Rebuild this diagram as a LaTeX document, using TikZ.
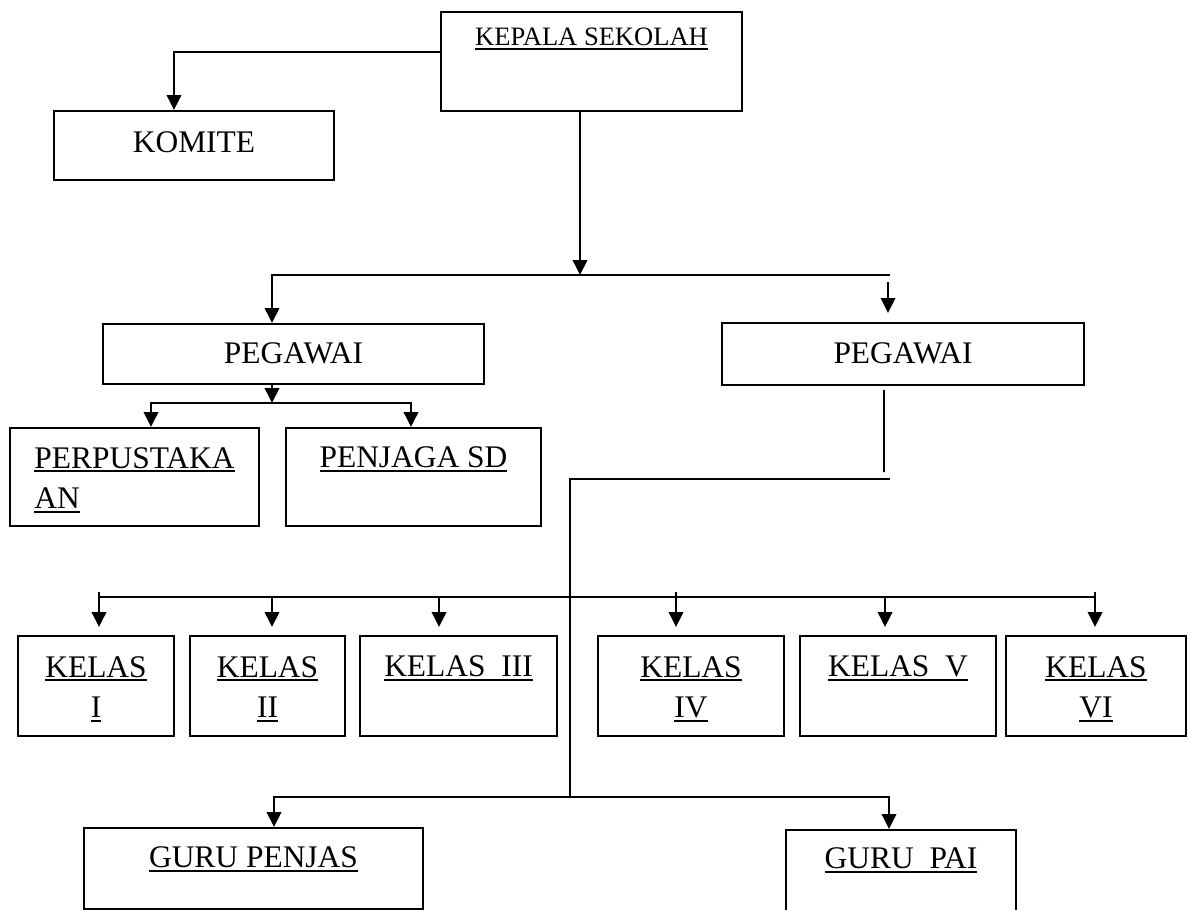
\documentclass[tikz,border=0pt]{standalone}
\usepackage{fontspec}
\setmainfont{Liberation Serif}
\usetikzlibrary{arrows.meta,positioning}
\newsavebox{\ulinebox}
\newcommand{\ulined}[1]{\sbox{\ulinebox}{#1}%
	\rlap{\rule[-0.08cm]{\wd\ulinebox}{1.1pt}}\usebox{\ulinebox}}

\begin{document}
\begin{tikzpicture}[
		>={Triangle[length=0.3cm, width=0.29cm]},
		line width=1.1pt,
		orgbox/.style={draw, anchor=north, inner sep=0pt, align=center,
				font=\fontsize{17.9}{23.3}\selectfont,
				text height=0.8cm, minimum width=#1},
		kelasbox/.style={orgbox=#1, text height=0.82cm, text depth=1.18cm},
		kelastwo/.style={orgbox=#1, text height=1.64cm, text depth=0.36cm},
	]

	\useasboundingbox (0,0) rectangle (23.76,-18.18);

	\node[orgbox=6.02cm, font=\fontsize{15.1}{18}\selectfont,
		text height=0.68cm, text depth=1.30cm] (kepala) at (11.83,-0.22)
	{\ulined{KEPALA SEKOLAH}};

	\node[orgbox=5.6cm, text height=0.84cm, text depth=0.54cm] (komite) at (3.88,-2.20)
	{KOMITE};

	\node[orgbox=7.62cm, text depth=0.4cm] (pegL) at (5.87,-6.46)
	{PEGAWAI};

	\node[orgbox=7.24cm, text height=0.82cm, text depth=0.42cm] (pegR) at (18.06,-6.44)
	{PEGAWAI};

	\node[orgbox=4.98cm, align=left, text height=1.62cm, text depth=0.34cm] (perpus) at (2.69,-8.54)
	{\ulined{PERPUSTAKA}\\\ulined{AN}};

	\node[orgbox=5.1cm, text depth=1.16cm] (penjaga) at (8.27,-8.54)
	{\ulined{PENJAGA SD}};

	\node[kelastwo=3.12cm] (kelas1) at (1.92,-12.7) {\ulined{KELAS}\\\ulined{I}};
	\node[kelastwo=3.10cm] (kelas2) at (5.35,-12.7) {\ulined{KELAS}\\\ulined{II}};
	\node[kelasbox=3.94cm] (kelas3) at (9.17,-12.7) {\ulined{KELAS\ \ III}};
	\node[kelastwo=3.72cm] (kelas4) at (13.82,-12.7) {\ulined{KELAS}\\\ulined{IV}};
	\node[kelasbox=3.92cm] (kelas5) at (17.96,-12.7) {\ulined{KELAS\ \ V}};
	\node[kelastwo=3.60cm] (kelas6) at (21.92,-12.7) {\ulined{KELAS}\\\ulined{VI}};

	\node[orgbox=6.78cm, text depth=0.82cm] (penjas) at (5.07,-16.54)
	{\ulined{GURU PENJAS}};

	\node[orgbox=4.6cm, text height=0.78cm, text depth=1.2cm] (pai) at (18.02,-16.58)
	{\ulined{GURU\ \ PAI}};

	% junctions
	\coordinate (topbusL) at (5.44,-5.5);
	\coordinate (topbusR) at (17.8,-5.5);
	\coordinate (midbus) at (5.44,-8.06);
	\coordinate (lowbusL) at (11.4,-9.58);
	\coordinate (lowbusR) at (17.8,-9.58);
	\coordinate (gurubus) at (11.4,-15.94);
	\coordinate (kelasbusL) at (1.98,-11.94);
	\coordinate (kelasbusR) at (21.9,-11.94);
	\coordinate (kelastick) at (0,-11.84);

	\draw[->] ([yshift=0.19cm]kepala.west) -| ([xshift=-0.4cm]komite.north);
	\draw[->] ([xshift=-0.23cm]kepala.south) -- ([xshift=-0.23cm]kepala.south |- topbusL);
	\draw[->] (topbusR) -- (topbusL) -- (topbusL |- pegL.north);
	\draw[->] ([xshift=-0.04cm,yshift=-0.14cm]topbusR) -- ([xshift=-0.3cm,yshift=0.18cm]pegR.north);

	\draw[->] (pegL.south -| midbus) -- (midbus);
	\draw[->] (midbus) -| ([xshift=0.33cm]perpus.north);
	\draw[->] (midbus) -| ([xshift=-0.05cm]penjaga.north);

	\draw ([xshift=-0.38cm,yshift=-0.08cm]pegR.south) -- ([xshift=-0.12cm,yshift=0.14cm]lowbusR);
	\draw (lowbusR) -- (lowbusL) -- (gurubus);

	\draw (kelasbusL) -- (kelasbusR);
	\draw[->] ([xshift=0.06cm]kelas1.north |- kelastick) -- ([xshift=0.06cm,yshift=0.16cm]kelas1.north);
	\draw[->] ([xshift=0.09cm]kelas2.north |- kelasbusL) -- ([xshift=0.09cm,yshift=0.16cm]kelas2.north);
	\draw[->] ([xshift=-0.39cm]kelas3.north |- kelasbusL) -- ([xshift=-0.39cm,yshift=0.16cm]kelas3.north);
	\draw[->] ([xshift=-0.30cm]kelas4.north |- kelastick) -- ([xshift=-0.30cm,yshift=0.16cm]kelas4.north);
	\draw[->] ([xshift=-0.26cm]kelas5.north |- kelasbusL) -- ([xshift=-0.26cm,yshift=0.16cm]kelas5.north);
	\draw[->] ([xshift=-0.02cm]kelas6.north |- kelastick) -- ([xshift=-0.02cm,yshift=0.16cm]kelas6.north);

	\draw[->] (gurubus) -| ([xshift=0.41cm]penjas.north);
	\draw[->] (gurubus) -| ([xshift=-0.24cm]pai.north);

\end{tikzpicture}
\end{document}
